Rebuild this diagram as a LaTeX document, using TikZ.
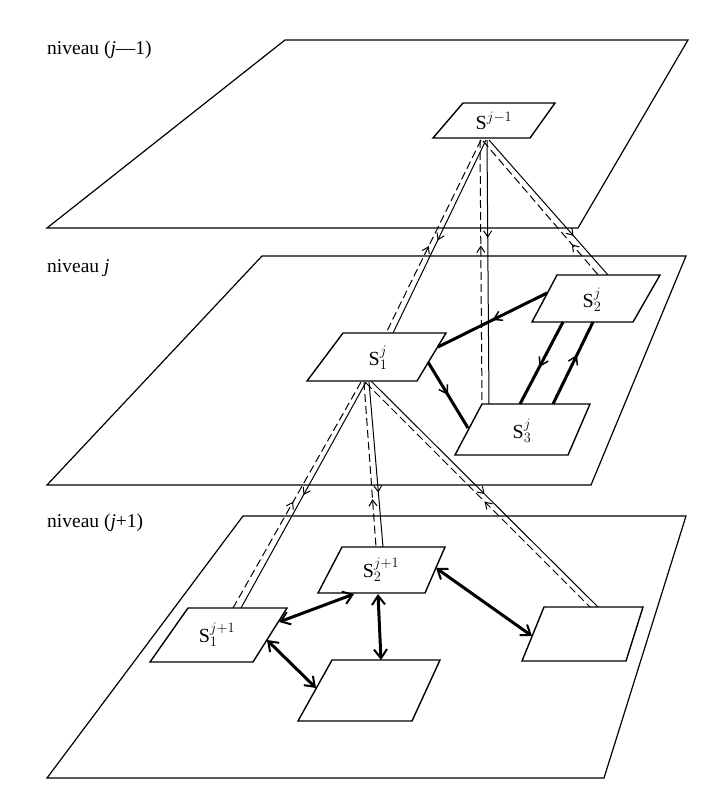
\documentclass[tikz,border=0pt]{standalone}
\usepackage{fontspec}
\setmainfont{Liberation Serif}
\usetikzlibrary{arrows.meta,decorations.markings}
\tikzset{
  plane/.style={draw, line width=1.2pt, line join=miter},
  sbox/.style={draw, fill=white, line width=1.4pt, line join=miter},
  ctl/.style={line width=1pt},
  fbk/.style={line width=1pt, dash pattern=on 8pt off 4pt},
  strong/.style={line width=3pt},
  lvl/.style={anchor=west, font=\fontsize{19.5}{21}\selectfont, inner sep=0pt},
  slab/.style={font=\fontsize{20}{22}\selectfont, inner sep=0pt},
  dnarrow/.style={postaction={decorate,decoration={markings,mark=at position #1 with {\arrow{Straight Barb[length=6pt,width=8pt,line width=1pt]}}}}},
  uparrow/.style={postaction={decorate,decoration={markings,mark=at position #1 with {\arrowreversed{Straight Barb[length=6pt,width=8pt,line width=1pt]}}}}},
  midarrow/.style={postaction={decorate,decoration={markings,mark=at position #1 with {\arrow{Straight Barb[length=8pt,width=10pt,line width=1.5pt]}}}}},
  dbl/.style={line width=3pt, {Straight Barb[length=9pt,width=13pt,line width=2pt]}-{Straight Barb[length=9pt,width=13pt,line width=2pt]}}
}
\begin{document}
\begin{tikzpicture}[x=1pt,y=-1pt]
\useasboundingbox[fill=white] (0,0) rectangle (706,800);

% planes
\draw[plane] (285,40) -- (688,40) -- (578,228) -- (47,228) -- cycle;
\draw[plane] (262,256) -- (686,256) -- (591,485) -- (47,485) -- cycle;
\draw[plane] (243,516) -- (686,516) -- (604,778) -- (47,778) -- cycle;

\node[lvl] (L1) at (47,50) {niveau (\textit{j}—1)};
\node[lvl] (L2) at (47,268) {niveau \textit{j}};
\node[lvl] (L3) at (47,523) {niveau (\textit{j}+1)};

% connector end points
\coordinate (A0d) at (481,140); \coordinate (A0s) at (486,140);
\coordinate (A1d) at (386,333); \coordinate (A1s) at (393,333);
\coordinate (B0d) at (480,140); \coordinate (B0s) at (487,140);
\coordinate (B1d) at (482,404); \coordinate (B1s) at (489,404);
\coordinate (C0d) at (483,141); \coordinate (C0s) at (489,140);
\coordinate (C1d) at (600,277); \coordinate (C1s) at (608,275);
\coordinate (D0d) at (361,382); \coordinate (D0s) at (366,382);
\coordinate (D1d) at (233,608); \coordinate (D1s) at (241,608);
\coordinate (E0d) at (364,382); \coordinate (E0s) at (369,382);
\coordinate (E1d) at (376,547); \coordinate (E1s) at (383,547);
\coordinate (F0d) at (366,383); \coordinate (F0s) at (371,381);
\coordinate (F1d) at (590,607); \coordinate (F1s) at (598,607);

% inter-level pairs: solid downward, dashed upward
\draw[ctl,dnarrow=0.52] (A0s) -- (A1s);
\draw[fbk,uparrow=0.55] (A0d) -- (A1d);
\draw[ctl,dnarrow=0.37] (B0s) -- (B1s);
\draw[fbk,uparrow=0.40] (B0d) -- (B1d);
\draw[ctl,dnarrow=0.71] (C0s) -- (C1s);
\draw[fbk,uparrow=0.76] (C0d) -- (C1d);
\draw[ctl,dnarrow=0.50] (D0s) -- (D1s);
\draw[fbk,uparrow=0.53] (D0d) -- (D1d);
\draw[ctl,dnarrow=0.67] (E0s) -- (E1s);
\draw[fbk,uparrow=0.71] (E0d) -- (E1d);
\draw[ctl,dnarrow=0.50] (F0s) -- (F1s);
\draw[fbk,uparrow=0.53] (F0d) -- (F1d);

% boxes
\draw[sbox] (463,103) -- (555,103) -- (530,138) -- (433,138) -- cycle;
\node[slab] (S0) at (494,121) {$\mathrm{S}^{j-1}$};
\draw[sbox] (343,333) -- (446,333) -- (417,381) -- (307,381) -- cycle;
\node[slab] (S1j) at (378,358) {$\mathrm{S}^{j}_{1}$};
\draw[sbox] (557,275) -- (660,275) -- (633,322) -- (532,322) -- cycle;
\node[slab] (S2j) at (592,300) {$\mathrm{S}^{j}_{2}$};
\draw[sbox] (482,404) -- (590,404) -- (568,455) -- (455,455) -- cycle;
\node[slab] (S3j) at (522,431) {$\mathrm{S}^{j}_{3}$};
\draw[sbox] (342,547) -- (445,547) -- (425,593) -- (318,593) -- cycle;
\node[slab] (S2k) at (381,570) {$\mathrm{S}^{j+1}_{2}$};
\draw[sbox] (188,608) -- (287,608) -- (253,662) -- (150,662) -- cycle;
\node[slab] (S1k) at (217,635) {$\mathrm{S}^{j+1}_{1}$};
\draw[sbox] (332,660) -- (440,660) -- (412,721) -- (298,721) -- cycle;
\draw[sbox] (544,607) -- (643,607) -- (626,661) -- (522,661) -- cycle;

% level j thick arrows
\coordinate (a1s) at (547,293); \coordinate (a1e) at (438,347);
\coordinate (a2s) at (428,362); \coordinate (a2e) at (468,428);
\coordinate (a3s) at (563,322); \coordinate (a3e) at (520,404);
\coordinate (a4s) at (553,404); \coordinate (a4e) at (593,322);
\draw[strong,midarrow=0.5] (a1s) -- (a1e);
\draw[strong,midarrow=0.5] (a2s) -- (a2e);
\draw[strong,midarrow=0.55] (a3s) -- (a3e);
\draw[strong,midarrow=0.6] (a4s) -- (a4e);

% level j+1 double arrows
\coordinate (b1s) at (279,622); \coordinate (b1e) at (354,594);
\coordinate (b2s) at (267,640); \coordinate (b2e) at (316,688);
\coordinate (b3s) at (378,594); \coordinate (b3e) at (381,660);
\coordinate (b4s) at (436,568); \coordinate (b4e) at (532,636);
\draw[dbl] (b1s) -- (b1e);
\draw[dbl] (b2s) -- (b2e);
\draw[dbl] (b3s) -- (b3e);
\draw[dbl] (b4s) -- (b4e);
\end{tikzpicture}
\end{document}
